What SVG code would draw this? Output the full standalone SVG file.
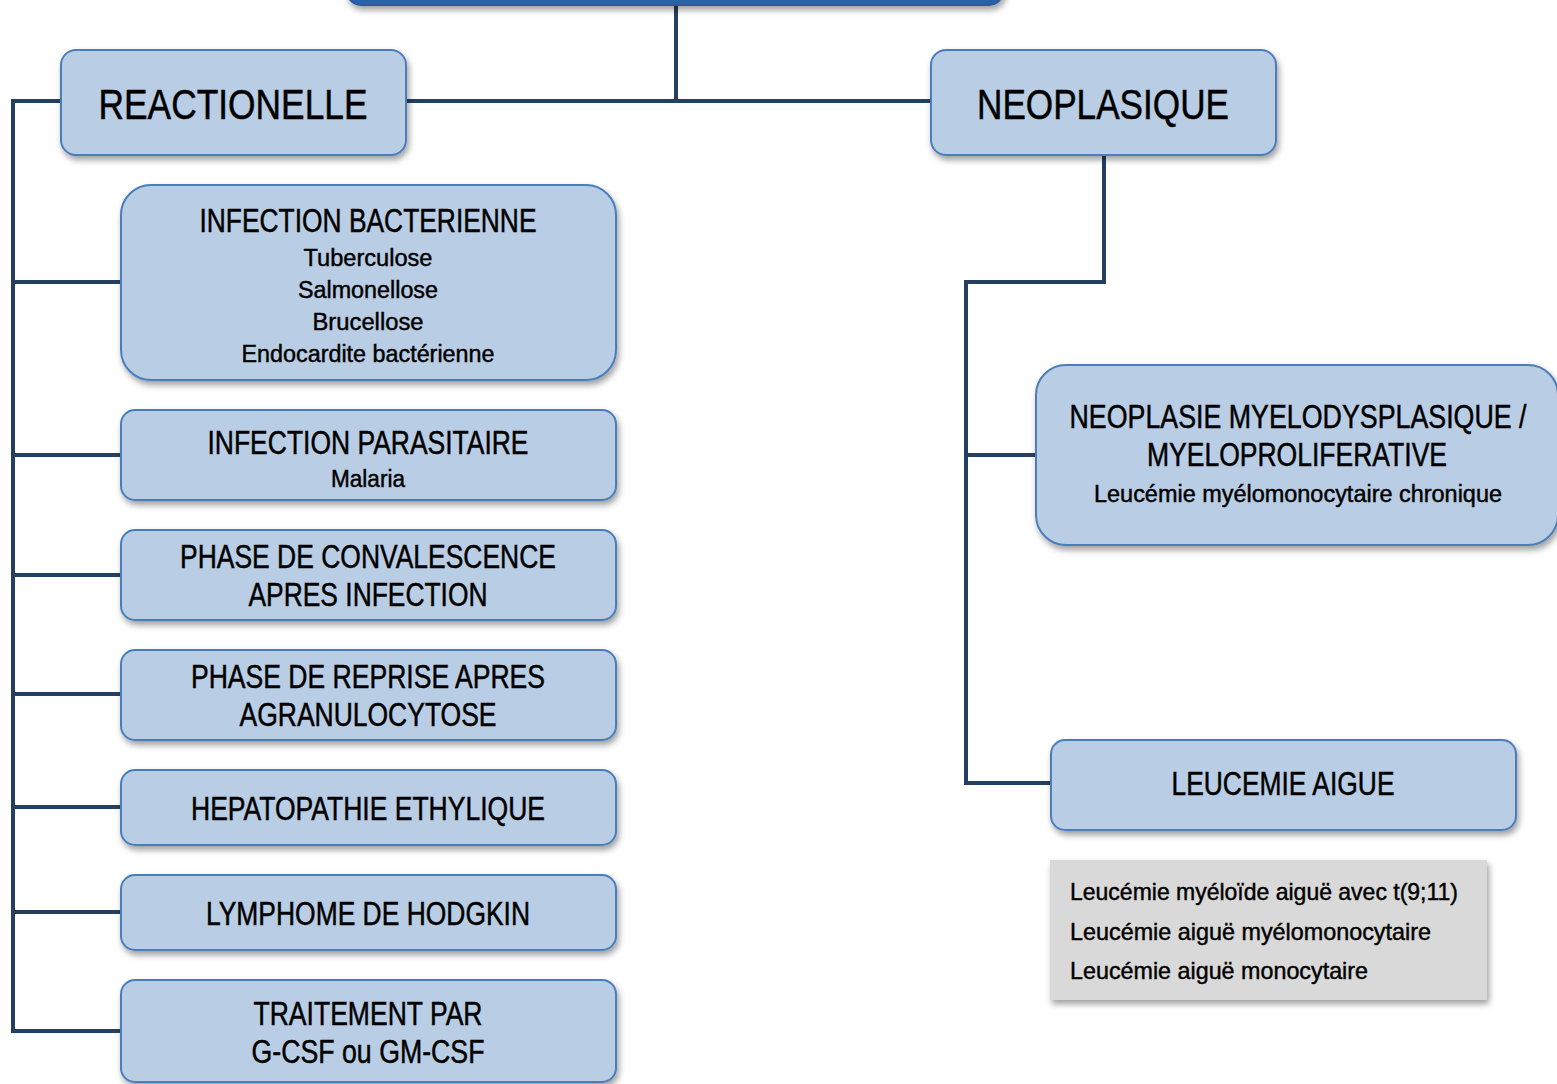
<svg xmlns="http://www.w3.org/2000/svg" width="1557" height="1084" viewBox="0 0 1557 1084">
  <defs>
    <filter id="shadow" x="-10%" y="-10%" width="120%" height="130%">
      <feDropShadow dx="2" dy="4" stdDeviation="3" flood-color="#000" flood-opacity="0.38"/>
    </filter>
    <style>
      .box { fill: #b9cde5; stroke: #4a7ebb; stroke-width: 2; filter: url(#shadow); }
      .root { fill: #2a62a9; stroke: #2a5b9c; stroke-width: 2; filter: url(#shadow); }
      .note { fill: #d9d9d9; filter: url(#shadow); }
      .wire { fill: none; stroke: #243f60; stroke-width: 4; stroke-linejoin: miter; stroke-linecap: square; }
      text { font-family: "Liberation Sans", Arial, sans-serif; fill: #000; stroke: #000; stroke-width: 0.5; }
      .big { font-size: 42px; text-anchor: middle; }
      .head { font-size: 33px; text-anchor: middle; }
      .sub { font-size: 23px; text-anchor: middle; stroke-width: 0.45; }
      .item { font-size: 24px; stroke-width: 0.45; }
    </style>
  </defs>

  <!-- connectors -->
  <g id="connectors">
    <path class="wire" d="M676 5 V101"/>
    <path class="wire" d="M406 101 H931"/>
    <path class="wire" d="M61 101 H13 V1031 H121"/>
    <path class="wire" d="M13 282 H121"/>
    <path class="wire" d="M13 455 H121"/>
    <path class="wire" d="M13 575 H121"/>
    <path class="wire" d="M13 694 H121"/>
    <path class="wire" d="M13 807 H121"/>
    <path class="wire" d="M13 912 H121"/>
    <path class="wire" d="M1104 155 V282 H966 V783 H1051"/>
    <path class="wire" d="M966 455 H1036"/>
  </g>

  <!-- root box (mostly above the visible area) -->
  <g id="root">
    <rect class="root" x="347" y="-60" width="656" height="65" rx="14"/>
  </g>

  <g id="reactionelle">
    <rect class="box" x="61" y="50" width="345" height="105" rx="15"/>
    <text class="big" x="233" y="119" textLength="269" lengthAdjust="spacingAndGlyphs">REACTIONELLE</text>
  </g>

  <g id="neoplasique">
    <rect class="box" x="931" y="50" width="345" height="105" rx="15"/>
    <text class="big" x="1103" y="119" textLength="252" lengthAdjust="spacingAndGlyphs">NEOPLASIQUE</text>
  </g>

  <g id="infection-bacterienne">
    <rect class="box" x="121" y="185" width="495" height="195" rx="30"/>
    <text class="head" x="368" y="232" textLength="337" lengthAdjust="spacingAndGlyphs">INFECTION BACTERIENNE</text>
    <text class="sub" x="368" y="266" textLength="129" lengthAdjust="spacingAndGlyphs">Tuberculose</text>
    <text class="sub" x="368" y="298" textLength="140" lengthAdjust="spacingAndGlyphs">Salmonellose</text>
    <text class="sub" x="368" y="330" textLength="111" lengthAdjust="spacingAndGlyphs">Brucellose</text>
    <text class="sub" x="368" y="362" textLength="253" lengthAdjust="spacingAndGlyphs">Endocardite bactérienne</text>
  </g>

  <g id="infection-parasitaire">
    <rect class="box" x="121" y="410" width="495" height="90" rx="14"/>
    <text class="head" x="368" y="454" textLength="321" lengthAdjust="spacingAndGlyphs">INFECTION PARASITAIRE</text>
    <text class="sub" x="368" y="487" textLength="74" lengthAdjust="spacingAndGlyphs">Malaria</text>
  </g>

  <g id="convalescence">
    <rect class="box" x="121" y="530" width="495" height="90" rx="14"/>
    <text class="head" x="368" y="568" textLength="376" lengthAdjust="spacingAndGlyphs">PHASE DE CONVALESCENCE</text>
    <text class="head" x="368" y="606" textLength="239" lengthAdjust="spacingAndGlyphs">APRES INFECTION</text>
  </g>

  <g id="reprise">
    <rect class="box" x="121" y="650" width="495" height="90" rx="14"/>
    <text class="head" x="368" y="688" textLength="354" lengthAdjust="spacingAndGlyphs">PHASE DE REPRISE APRES</text>
    <text class="head" x="368" y="726" textLength="257" lengthAdjust="spacingAndGlyphs">AGRANULOCYTOSE</text>
  </g>

  <g id="hepatopathie">
    <rect class="box" x="121" y="770" width="495" height="75" rx="14"/>
    <text class="head" x="368" y="820" textLength="354" lengthAdjust="spacingAndGlyphs">HEPATOPATHIE ETHYLIQUE</text>
  </g>

  <g id="hodgkin">
    <rect class="box" x="121" y="875" width="495" height="75" rx="14"/>
    <text class="head" x="368" y="925" textLength="324" lengthAdjust="spacingAndGlyphs">LYMPHOME DE HODGKIN</text>
  </g>

  <g id="traitement">
    <rect class="box" x="121" y="980" width="495" height="102" rx="14"/>
    <text class="head" x="368" y="1025" textLength="229" lengthAdjust="spacingAndGlyphs">TRAITEMENT PAR</text>
    <text class="head" x="368" y="1063" textLength="233" lengthAdjust="spacingAndGlyphs">G-CSF ou GM-CSF</text>
  </g>

  <g id="myelodysplasique">
    <rect class="box" x="1036" y="365" width="522" height="180" rx="30"/>
    <text class="head" x="1298" y="428" textLength="457" lengthAdjust="spacingAndGlyphs">NEOPLASIE MYELODYSPLASIQUE /</text>
    <text class="head" x="1297" y="466" textLength="300" lengthAdjust="spacingAndGlyphs">MYELOPROLIFERATIVE</text>
    <text class="sub" x="1298" y="502" textLength="408" lengthAdjust="spacingAndGlyphs">Leucémie myélomonocytaire chronique</text>
  </g>

  <g id="leucemie-aigue">
    <rect class="box" x="1051" y="740" width="465" height="90" rx="14"/>
    <text class="head" x="1283" y="795" textLength="223" lengthAdjust="spacingAndGlyphs">LEUCEMIE AIGUE</text>
  </g>

  <g id="leucemie-types">
    <rect class="note" x="1050" y="860" width="437" height="140"/>
    <text class="item" x="1070" y="900" textLength="388" lengthAdjust="spacingAndGlyphs">Leucémie myéloïde aiguë avec t(9;11)</text>
    <text class="item" x="1070" y="940" textLength="361" lengthAdjust="spacingAndGlyphs">Leucémie aiguë myélomonocytaire</text>
    <text class="item" x="1070" y="979" textLength="298" lengthAdjust="spacingAndGlyphs">Leucémie aiguë monocytaire</text>
  </g>
</svg>
